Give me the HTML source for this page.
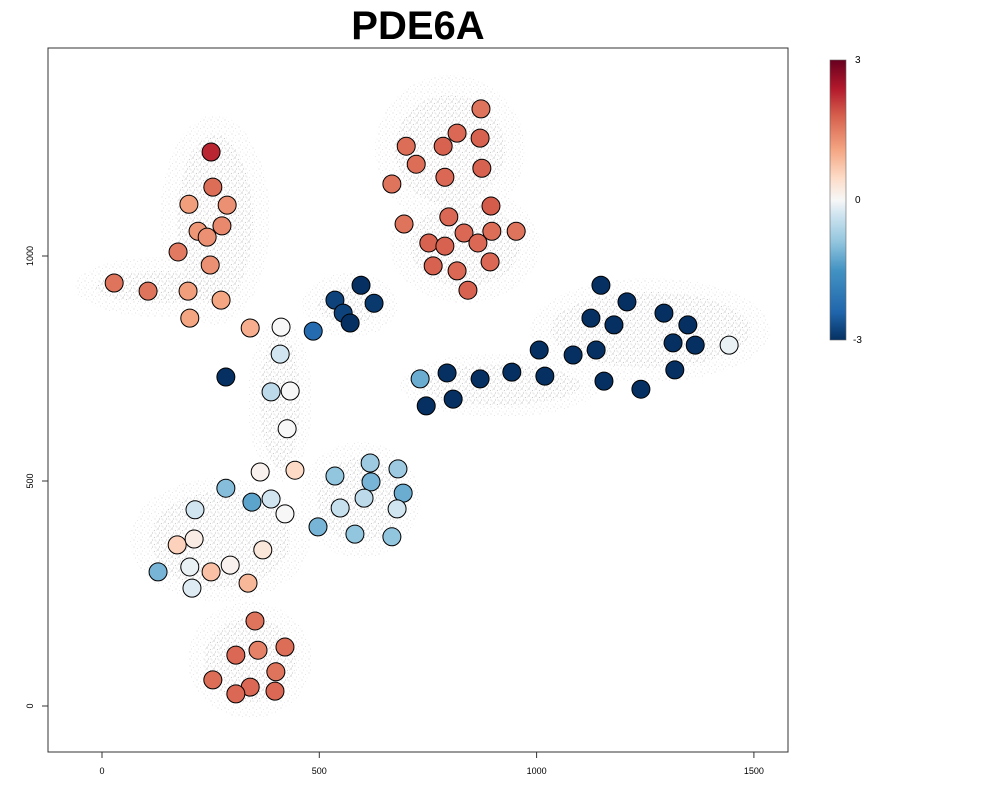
<!DOCTYPE html>
<html><head><meta charset="utf-8">
<style>
body{margin:0;background:#fff;}
svg{display:block;font-family:"Liberation Sans",Arial,sans-serif;}
</style></head>
<body>
<svg id="chart" width="1000" height="800">
<defs>
<pattern id="dots" width="7" height="7" patternUnits="userSpaceOnUse">
<circle cx="1" cy="1" r="0.7" fill="#c4c4c4"/><circle cx="4.5" cy="2.5" r="0.6" fill="#cccccc"/><circle cx="2.5" cy="5" r="0.6" fill="#c8c8c8"/><circle cx="6" cy="6" r="0.5" fill="#d2d2d2"/>
</pattern>
<linearGradient id="cbar" x1="0" y1="1" x2="0" y2="0">
<stop offset="0" stop-color="#053061"/><stop offset="0.1" stop-color="#2166ac"/><stop offset="0.25" stop-color="#4393c3"/><stop offset="0.35" stop-color="#92c5de"/><stop offset="0.45" stop-color="#d1e5f0"/><stop offset="0.5" stop-color="#f7f7f7"/><stop offset="0.58" stop-color="#fddbc7"/><stop offset="0.68" stop-color="#f4a582"/><stop offset="0.8" stop-color="#d6604d"/><stop offset="0.9" stop-color="#b2182b"/><stop offset="1" stop-color="#67001f"/>
</linearGradient>
</defs>
<text x="418" y="39" text-anchor="middle" font-size="40" font-weight="bold">PDE6A</text>
<g id="bg" fill="url(#dots)">
<g opacity="0.45" transform="translate(0,0)">
<ellipse cx="215" cy="220" rx="55" ry="105"/>
<ellipse cx="160" cy="287" rx="85" ry="30"/>
<ellipse cx="450" cy="150" rx="75" ry="75"/>
<ellipse cx="465" cy="245" rx="75" ry="58"/>
<ellipse cx="650" cy="330" rx="120" ry="52"/>
<ellipse cx="500" cy="385" rx="100" ry="32"/>
<ellipse cx="360" cy="500" rx="60" ry="58"/>
<ellipse cx="220" cy="540" rx="90" ry="62"/>
<ellipse cx="250" cy="660" rx="62" ry="58"/>
<ellipse cx="280" cy="400" rx="32" ry="82"/>
<ellipse cx="350" cy="305" rx="48" ry="32"/>
</g>
<g transform="translate(3,3)">
<ellipse cx="212" cy="217" rx="38" ry="85"/>
<ellipse cx="157" cy="284" rx="65" ry="16"/>
<ellipse cx="447" cy="147" rx="55" ry="55"/>
<ellipse cx="462" cy="242" rx="55" ry="42"/>
<ellipse cx="647" cy="327" rx="100" ry="38"/>
<ellipse cx="497" cy="382" rx="80" ry="20"/>
<ellipse cx="357" cy="497" rx="42" ry="42"/>
<ellipse cx="217" cy="537" rx="70" ry="48"/>
<ellipse cx="247" cy="657" rx="46" ry="42"/>
<ellipse cx="277" cy="397" rx="20" ry="68"/>
<ellipse cx="347" cy="302" rx="32" ry="18"/>
</g>
</g>
<rect x="48" y="48" width="740" height="704" fill="none" stroke="#333" stroke-width="1"/>
<g id="axes"></g>
<g id="points"></g>
<rect x="830" y="60" width="16" height="280" fill="url(#cbar)" stroke="#666" stroke-width="0.6"/>
<text x="855" y="63" font-size="10">3</text>
<text x="855" y="203" font-size="10">0</text>
<text x="853" y="343" font-size="10">-3</text>
</svg>
<script>
const xTicks=[0,500,1000,1500];
const yTicks=[0,500,1000];
const xs=[251,255,200,288,276,221,242,175,249,28,106,198,274,202,341,412,410,285,389,433,426,
364,444,285,345,389,421,214,173,212,370,129,202,251,295,207,336,
352,308,359,421,400,255,341,308,398,
536,617,681,619,693,603,548,679,497,582,667,
596,536,626,555,571,486,
872,700,817,785,870,723,789,874,667,895,798,695,833,897,953,752,789,865,762,817,893,842,
1148,1208,1125,1178,1293,1348,1314,1365,1443,1006,1084,1137,1318,1155,1240,732,794,870,943,1019,746,808];
const ys=[1231,1153,1115,1113,1067,1055,1042,1009,980,940,922,922,902,862,840,842,782,731,698,700,616,
520,524,484,453,460,427,436,358,371,347,298,309,298,313,262,273,
189,113,124,131,76,58,42,27,33,
511,540,527,498,473,462,440,438,398,382,376,
935,902,895,873,851,833,
1327,1244,1273,1244,1262,1204,1175,1195,1160,1111,1087,1071,1051,1055,1055,1029,1022,1029,978,967,987,924,
935,898,862,847,873,847,807,802,802,791,780,791,747,722,704,727,740,727,742,733,667,682];
const vals=[2.6,1.9,1.2,1.4,1.5,1.3,1.4,1.7,1.4,1.8,1.8,1.2,1.1,1.1,1.0,0,-0.3,-3,-0.5,0,0,
0.1,0.5,-1,-1.3,-0.3,0,-0.3,0.6,0.2,0.3,-1.1,-0.1,0.8,0.1,-0.2,0.9,
1.8,2,1.6,1.9,1.8,1.9,2,2,2,
-0.9,-0.8,-0.8,-1.1,-1.2,-0.5,-0.4,-0.3,-1.1,-0.9,-0.9,
-3,-2.8,-2.9,-2.8,-3,-2.3,
1.8,1.9,2,2.1,2.1,1.9,2,2.1,1.8,2.2,2,1.8,2,1.9,1.8,2.1,2.1,2,2.1,2,2,2.1,
-3,-3,-3,-3,-3,-3,-3,-3,-0.1,-3,-3,-3,-3,-3,-3,-1.2,-3,-3,-3,-3,-3,-3];

const NS="http://www.w3.org/2000/svg";
function sx(v){return 102+v*0.4346;}
function sy(v){return 706-v*0.45;}
const stops=[[-3,[5,48,97]],[-2.4,[33,102,172]],[-1.5,[67,147,195]],[-0.9,[146,197,222]],[-0.3,[209,229,240]],[0,[247,247,247]],[0.5,[253,219,199]],[1.1,[244,165,130]],[1.7,[226,122,98]],[2.2,[212,92,74]],[2.7,[178,24,43]],[3,[103,0,31]]];
function col(v){
  v=Math.max(-3,Math.min(3,v));
  for(let i=0;i<stops.length-1;i++){
    const a=stops[i],b=stops[i+1];
    if(v<=b[0]){const t=(v-a[0])/(b[0]-a[0]);
      const c=a[1].map((k,j)=>Math.round(k+(b[1][j]-k)*t));
      return `rgb(${c[0]},${c[1]},${c[2]})`;}
  }
  return 'rgb(103,0,31)';
}
const ax=document.getElementById('axes');
xTicks.forEach(t=>{
  const l=document.createElementNS(NS,'line');
  l.setAttribute('x1',sx(t));l.setAttribute('x2',sx(t));l.setAttribute('y1',752);l.setAttribute('y2',758);l.setAttribute('stroke','#333');
  
  
  ax.appendChild(l);
  const tx=document.createElementNS(NS,'text');
  tx.setAttribute('x',sx(t));tx.setAttribute('y',774);tx.setAttribute('font-size','9');tx.setAttribute('text-anchor','middle');
  tx.textContent=t;
  
  
  ax.appendChild(tx);
});
yTicks.forEach(t=>{
  const l=document.createElementNS(NS,'line');
  l.setAttribute('x1',42);l.setAttribute('x2',48);l.setAttribute('y1',sy(t));l.setAttribute('y2',sy(t));l.setAttribute('stroke','#333');
  
  
  ax.appendChild(l);
  const tx=document.createElementNS(NS,'text');
  tx.setAttribute('transform',`translate(33,${sy(t)}) rotate(-90)`);tx.setAttribute('font-size','9');tx.setAttribute('text-anchor','middle');
  tx.textContent=t;
  
  
  ax.appendChild(tx);
});
const pg=document.getElementById('points');
xs.forEach((x,i)=>{
  const c=document.createElementNS(NS,'circle');
  c.setAttribute('cx',sx(x));c.setAttribute('cy',sy(ys[i]));c.setAttribute('r',9);
  c.setAttribute('fill',col(vals[i]));c.setAttribute('stroke','#000');c.setAttribute('stroke-width','1');
  
  
  pg.appendChild(c);
});
</script>
</body></html>
